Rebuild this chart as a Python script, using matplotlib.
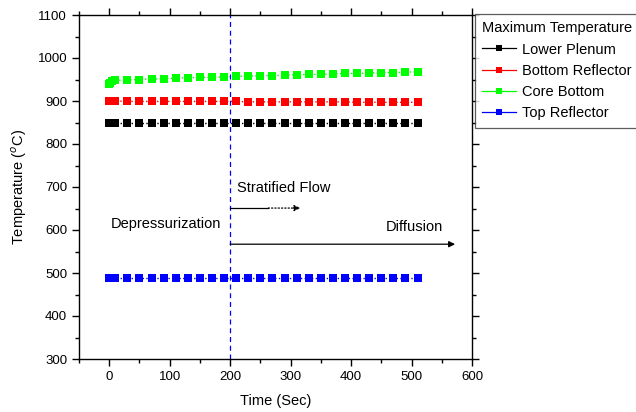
import matplotlib
matplotlib.use("Agg")
import matplotlib.pyplot as plt
import numpy as np

plt.rcParams['font.family'] = ['Liberation Sans', 'DejaVu Sans']
plt.rcParams['mathtext.fontset'] = 'custom'
plt.rcParams['mathtext.rm'] = 'Liberation Sans'

time = [0, 2, 5, 10] + list(range(30, 511, 20))
lower_plenum = [850] * len(time)
bottom_reflector = [900, 900, 900, 900, 899, 899, 899, 899, 899, 899, 899, 899, 899, 899,
                    898, 898, 898, 898, 898, 898, 898, 898, 898, 897, 897, 897, 897, 897, 897]
core_bottom = [940, 943, 946, 948, 949, 950, 951, 952, 953, 954, 955, 955, 956, 957,
               958, 959, 959, 960, 961, 962, 962, 963, 964, 964, 965, 966, 966, 967, 968]
top_reflector = [488] * len(time)

series = [("Lower Plenum", lower_plenum, "#000000"),
          ("Bottom Reflector", bottom_reflector, "#ff0000"),
          ("Core Bottom", core_bottom, "#00ff00"),
          ("Top Reflector", top_reflector, "#0000ff")]

fig = plt.figure(figsize=(6.36, 4.12), dpi=100)
ax = fig.add_axes([79/636, 1-359/412, (472-79)/636, (359-15)/412])

handles = []
for name, vals, c in series:
    ax.plot(time, vals, linestyle=':', color=c, linewidth=1.0,
            marker='s', markersize=6, markeredgewidth=0)
    h, = ax.plot([], [], linestyle='-', color=c, linewidth=0.9, marker='s',
                 markersize=5, markeredgewidth=0, label=name)
    handles.append(h)

ax.axvline(200, color='#0000ff', linestyle=(0, (4, 3)), linewidth=0.9)

ax.set_xlim(-50, 600)
ax.set_ylim(300, 1100)
ax.set_xticks(range(0, 601, 100))
ax.set_xticks(range(-50, 601, 50), minor=True)
ax.set_yticks(range(300, 1101, 100))
ax.set_yticks(range(300, 1101, 50), minor=True)
ax.tick_params(which='both', direction='out', top=True, right=True, labelsize=9.5)
ax.tick_params(which='major', length=5, width=1)
ax.tick_params(which='minor', length=3, width=1)
for s in ax.spines.values():
    s.set_linewidth(1.0)

ax.set_xlabel("Time (Sec)", fontsize=10.5, labelpad=8)
ax.set_ylabel("Temperature ($^{o}$C)", fontsize=10.5, labelpad=6)

# annotations
ax.text(212, 698, "Stratified Flow", fontsize=10.5, va='center', ha='left')
ax.text(3, 615, "Depressurization", fontsize=10.5, va='center', ha='left')
ax.text(457, 607, "Diffusion", fontsize=10.5, va='center', ha='left')
ax.plot([200, 263], [651, 651], color='black', linewidth=0.9)
ax.annotate("", xy=(316, 651), xytext=(263, 651),
            arrowprops=dict(arrowstyle='-|>', linestyle=':', color='black', lw=0.9,
                            mutation_scale=9, shrinkA=0, shrinkB=0))
ax.annotate("", xy=(572, 567), xytext=(200, 567),
            arrowprops=dict(arrowstyle='-|>', color='black', lw=0.9,
                            mutation_scale=9, shrinkA=0, shrinkB=0))

leg = fig.legend(handles=handles, title="Maximum Temperature",
                 loc='upper left', bbox_to_anchor=(475/636, 1-14/412),
                 fontsize=10.5, title_fontsize=10.5, frameon=True, fancybox=False,
                 edgecolor='#333333', handlelength=2.3, handletextpad=0.4,
                 borderpad=0.5, labelspacing=0.5, borderaxespad=0)
leg._legend_box.align = "left"
leg.get_frame().set_linewidth(0.9)

fig.savefig("out.png", dpi=100)
